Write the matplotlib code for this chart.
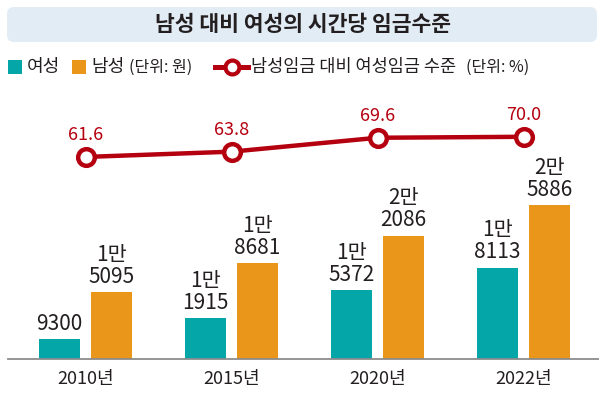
import matplotlib
matplotlib.use("Agg")
import matplotlib.pyplot as plt
from matplotlib.patches import FancyBboxPatch, Rectangle
from matplotlib.lines import Line2D

plt.rcParams["font.family"] = ["Noto Sans CJK KR", "DejaVu Sans"]

years = ["2010년", "2015년", "2020년", "2022년"]
women = [9300, 11915, 15372, 18113]
men = [15095, 18681, 22086, 25886]
ratio = [61.6, 63.8, 69.6, 70.0]

TEAL = "#04a6a8"
ORANGE = "#e9961a"
RED = "#b5000f"
DARK = "#231f20"


def won_label(v):
    man, rest = divmod(v, 10000)
    if man:
        return f"{man}만\n{rest:04d}"
    return f"{rest}"


fig = plt.figure(figsize=(5.99, 3.99), dpi=100)

# title box
fig.patches.append(FancyBboxPatch(
    (0.07, 3.57), 5.90, 0.35,
    boxstyle="round,pad=0,rounding_size=0.07",
    transform=fig.dpi_scale_trans, facecolor="#e2ecf5", edgecolor="none"
))
fig.text(3.03, 3.745, "남성 대비 여성의 시간당 임금수준", transform=fig.dpi_scale_trans,
         ha="center", va="center", fontsize=15.5, fontweight="bold", color=DARK)

# legend
ly = 3.99 - 0.67
fig.patches.append(Rectangle((0.075, ly - 0.07), 0.14, 0.14, transform=fig.dpi_scale_trans,
                             facecolor=TEAL, edgecolor="none"))
fig.text(0.27, ly, "여성", transform=fig.dpi_scale_trans, ha="left", va="center",
         fontsize=13, color=DARK)
fig.patches.append(Rectangle((0.72, ly - 0.07), 0.14, 0.14, transform=fig.dpi_scale_trans,
                             facecolor=ORANGE, edgecolor="none"))
fig.text(0.91, ly, "남성", transform=fig.dpi_scale_trans, ha="left", va="center",
         fontsize=13, color=DARK)
fig.text(1.29, ly, "(단위: 원)", transform=fig.dpi_scale_trans, ha="left", va="center",
         fontsize=11.5, color=DARK)
fig.lines.append(Line2D([2.15, 2.48], [ly, ly], transform=fig.dpi_scale_trans,
                        color=RED, lw=3.6))
fig.lines.append(Line2D([2.315], [ly], transform=fig.dpi_scale_trans, marker="o",
                        markersize=10, markerfacecolor="white", markeredgecolor=RED,
                        markeredgewidth=3, color=RED))
fig.text(2.51, ly, "남성임금 대비 여성임금 수준", transform=fig.dpi_scale_trans,
         ha="left", va="center", fontsize=12.6, color=DARK)
fig.text(4.66, ly, "(단위: %)", transform=fig.dpi_scale_trans, ha="left", va="center",
         fontsize=11.5, color=DARK)

# bars
ax = fig.add_axes([8 / 599, 1 - 359 / 399, 591 / 599, 269 / 399])
x = list(range(len(years)))
w = 0.28
off = 0.178
ax.bar([i - off for i in x], women, width=w, color=TEAL)
ax.bar([i + off for i in x], men, width=w, color=ORANGE)
for i in x:
    ax.annotate(won_label(women[i]), (i - off, women[i]), xytext=(0, 3),
                textcoords="offset points", ha="center", va="bottom",
                fontsize=15, color=DARK, linespacing=1.0)
    ax.annotate(won_label(men[i]), (i + off, men[i]), xytext=(0, 3),
                textcoords="offset points", ha="center", va="bottom",
                fontsize=15, color=DARK, linespacing=1.0)

ax.set_xlim(-0.531, 3.517)
ax.set_ylim(6800, 40100)
ax.set_xticks(x)
ax.set_xticklabels(years, fontsize=13, color=DARK)
ax.tick_params(axis="x", length=0, pad=8)
ax.set_yticks([])
for s in ["top", "left", "right"]:
    ax.spines[s].set_visible(False)
ax.spines["bottom"].set_color("#8c8c8c")
ax.spines["bottom"].set_linewidth(1.3)
ax.patch.set_alpha(0)

# ratio line
ax2 = ax.twinx()
ax2.plot(x, ratio, color=RED, lw=3.2, marker="o", markersize=12,
         markerfacecolor="white", markeredgecolor=RED, markeredgewidth=3.2, zorder=3)
for i in x:
    ax2.annotate(f"{ratio[i]:.1f}", (i, ratio[i]), xytext=(0, 9),
                 textcoords="offset points", ha="center", va="bottom",
                 fontsize=13, color=RED)
ax2.set_ylim(-22.6, 89.5)
ax2.set_yticks([])
for s in ["top", "left", "right", "bottom"]:
    ax2.spines[s].set_visible(False)

fig.savefig("out.png", dpi=100)
